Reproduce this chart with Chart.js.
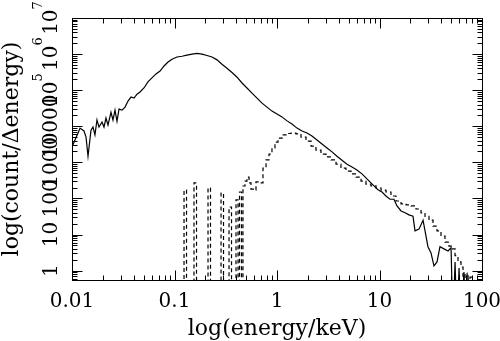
<!DOCTYPE html>
<html>
<head>
<meta charset="utf-8">
<script src="https://cdn.jsdelivr.net/npm/chart.js@4"></script>
<style>
  html, body { margin: 0; padding: 0; background: #ffffff; }
  #chart { display: block; }
</style>
</head>
<body>
<canvas id="chart" width="500" height="341"></canvas>
<script>
// Histograma total (línea continua): energía en keV y su valor
const solidEnergy = [
  0.0100, 0.01069, 0.01146, 0.01197, 0.01309, 0.01371, 0.01433, 0.01532, 0.01603, 0.01675,
  0.01753, 0.01834, 0.01963, 0.02051, 0.02145, 0.02244, 0.0240, 0.0251, 0.02627, 0.02748,
  0.02875, 0.03078, 0.03291, 0.0352, 0.03764, 0.04027, 0.04307, 0.04607, 0.05036, 0.05507,
  0.06026, 0.06601, 0.07228, 0.07907, 0.0865, 0.09462, 0.1057, 0.1183, 0.1324, 0.1483,
  0.166, 0.1854, 0.2075, 0.2323, 0.26, 0.2904, 0.3251, 0.3639, 0.4074, 0.456,
  0.5093, 0.5702, 0.6383, 0.7145, 0.798, 0.8933, 1.0, 1.119, 1.253, 1.4,
  1.567, 1.754, 1.963, 2.193, 2.455, 2.748, 3.076, 3.443, 3.846, 4.305,
  4.819, 5.395, 6.026, 6.745, 7.379, 8.07, 8.83, 9.66, 10.57, 11.56,
  12.65, 13.84, 14.82, 16.22, 17.74, 19.41, 21.23, 22.2, 24.3, 26.6,
  29.7, 31.8, 34.0, 36.4, 38.9, 42.6, 46.6, 49.9, 52.1, 54.6,
  57.0, 59.7, 62.4, 66.7, 69.8, 73.0, 76.4
];
const solidCounts = [
  2660, 4170, 6500, 8900, 7400, 5000, 1480, 7800, 9500, 5800,
  14900, 9500, 13100, 9500, 16900, 10800, 24300, 14900, 28000, 13700,
  29800, 28000, 34000, 50000, 64600, 60300, 77600, 89100, 115000, 170000,
  219000, 282000, 339000, 468000, 603000, 724000, 832000, 871000, 933000, 1000000,
  1040000, 1000000, 912000, 832000, 692000, 525000, 407000, 309000, 229000, 158000,
  115000, 83200, 60300, 43700, 33900, 26300, 21900, 18200, 14100, 11500,
  8900, 7400, 6500, 5400, 4170, 3240, 2510, 1950, 1480, 1150,
  890, 741, 617, 479, 372, 288, 224, 174, 151, 117,
  95, 95, 62, 45, 40, 35, 32, 12.6, 14.1, 25,
  4.6, 3.1, 1.35, 1.74, 4.6, 4.0, 3.5, 4.3, 0, 1.74,
  0, 1.18, 0, 0.92, 0, 0.76, 0
];

// Componente (línea discontinua): borde izquierdo de cada bin y su valor
const dashedEnergy = [
  0.1211, 0.1239, 0.1310, 0.1549, 0.1640, 0.2123, 0.2245, 0.2844, 0.3008, 0.3404,
  0.3600, 0.3981, 0.4168, 0.4309, 0.4505, 0.4656, 0.4875, 0.5093, 0.5333, 0.5572,
  0.5970, 0.6237, 0.6823, 0.7300, 0.7816, 0.8356, 0.8933, 0.9550, 1.023, 1.119,
  1.224, 1.371, 1.531, 1.714, 1.919, 2.148, 2.399, 2.685, 3.006, 3.365,
  3.767, 4.207, 4.710, 5.272, 5.902, 6.607, 7.379, 8.260, 9.247, 10.35,
  11.56, 12.94, 14.49, 16.22, 18.16, 20.28, 22.70, 25.41, 27.80, 30.41,
  33.27, 36.39, 39.81, 43.55, 47.64, 50.93, 54.58, 58.34, 62.37, 65.3,
  68.3, 71.5, 76.4, 79.9
];
const dashedCounts = [
  0, 170, 0, 269, 0, 195, 0, 141, 0, 58,
  0, 91, 0, 151, 0, 221, 302, 389, 269, 182,
  170, 288, 269, 692, 1170, 1700, 2510, 3630, 4680, 5750,
  6310, 6460, 6170, 5010, 3890, 2820, 2190, 1700, 1410, 1170,
  891, 692, 575, 479, 389, 302, 251, 224, 195, 170,
  151, 117, 85, 71, 66, 62, 51, 40, 32, 25,
  17, 12.6, 9.1, 6.2, 4.8, 4.0, 2.6, 1.74, 1.26, 0,
  0.86, 0, 0.66, 0
];

// Marcas de los ejes
const xTicks = [0.01, 0.1, 1, 10, 100];
const xTickLabels = ["0.01", "0.1", "1", "10", "100"];
const yTicks = [1, 10, 100, 1000, 10000, 1e5, 1e6, 1e7];
const yTickBase = ["1", "10", "100", "1000", "10000", "10", "10", "10"];
const yTickExp = ["", "", "", "", "", "5", "6", "7"];

const xTitle = "log(energy/keV)";
const yTitle = "log(count/\u0394energy)";

const serif = "'DejaVu Serif', serif";
const yMin = 0.55;

// Plugin: marco con marcas hacia dentro en los cuatro lados, etiquetas y títulos
const framePlugin = {
    id: "framePlugin",

    afterDatasetsDraw(chart) {
        const ctx = chart.ctx;
        const a = chart.chartArea;
        const xs = chart.scales.x;
        const ys = chart.scales.y;

        const L = Math.round(a.left) + 0.5;
        const R = Math.round(a.right) + 0.5;
        const T = Math.round(a.top) + 0.5;
        const B = Math.round(a.bottom) + 0.5;

        ctx.save();
        ctx.strokeStyle = "#000000";
        ctx.lineWidth = 1;
        ctx.strokeRect(L, T, R - L, B - T);

        ctx.beginPath();
        // marcas del eje x (abajo y arriba)
        for (let d = -2; d <= 2; d++) {
            for (let m = 1; m <= 9; m++) {
                const v = m * Math.pow(10, d);
                if (v < xs.min * 0.999 || v > xs.max * 1.001) continue;
                const px = Math.round(xs.getPixelForValue(v)) + 0.5;
                const len = m === 1 ? 10 : 5;
                ctx.moveTo(px, B); ctx.lineTo(px, B - len);
                ctx.moveTo(px, T); ctx.lineTo(px, T + len);
            }
        }
        // marcas del eje y (izquierda y derecha)
        for (let d = -1; d <= 7; d++) {
            for (let m = 1; m <= 9; m++) {
                const v = m * Math.pow(10, d);
                if (v < ys.min || v > ys.max * 1.001) continue;
                const py = Math.round(ys.getPixelForValue(v)) + 0.5;
                const len = m === 1 ? 10 : 5;
                ctx.moveTo(L, py); ctx.lineTo(L + len, py);
                ctx.moveTo(R, py); ctx.lineTo(R - len, py);
            }
        }
        ctx.stroke();

        ctx.fillStyle = "#000000";

        // etiquetas del eje x
        ctx.font = "20px " + serif;
        ctx.textAlign = "center";
        ctx.textBaseline = "alphabetic";
        xTicks.forEach((v, i) => {
            ctx.fillText(xTickLabels[i], xs.getPixelForValue(v), 307);
        });

        // etiquetas del eje y (giradas)
        yTicks.forEach((v, i) => {
            const py = ys.getPixelForValue(v);
            ctx.save();
            ctx.translate(57, py);
            ctx.rotate(-Math.PI / 2);
            ctx.textAlign = "left";
            ctx.font = "20px " + serif;
            const wb = ctx.measureText(yTickBase[i]).width;
            ctx.font = "13px " + serif;
            const we = yTickExp[i] ? ctx.measureText(yTickExp[i]).width : 0;
            const start = -(wb + we) / 2;
            ctx.font = "20px " + serif;
            ctx.fillText(yTickBase[i], start, 0);
            if (yTickExp[i]) {
                ctx.font = "13px " + serif;
                ctx.fillText(yTickExp[i], start + wb, -15);
            }
            ctx.restore();
        });

        // títulos
        ctx.font = "22px " + serif;
        ctx.textAlign = "center";
        ctx.fillText(xTitle, (a.left + a.right) / 2, 335);

        ctx.save();
        ctx.translate(18, (a.top + a.bottom) / 2);
        ctx.rotate(-Math.PI / 2);
        ctx.fillText(yTitle, 0, 0);
        ctx.restore();

        ctx.restore();
    }
};

// Los bins vacíos (0) se llevan por debajo del eje para que la línea baje hasta el borde
const toPoints = (xsArr, ysArr) => xsArr.map((e, i) => ({
    x: e,
    y: ysArr[i] > 0 ? ysArr[i] : yMin / 20
}));

new Chart(document.getElementById("chart"), {
    type: "line",

    data: {
        datasets: [{
            data: toPoints(solidEnergy, solidCounts),
            borderColor: "#000000",
            borderWidth: 1.2,
            pointRadius: 0,
            tension: 0,
            fill: false
        }, {
            data: toPoints(dashedEnergy, dashedCounts),
            stepped: "before",
            borderColor: "#000000",
            borderWidth: 1.2,
            borderDash: [4, 3],
            pointRadius: 0,
            fill: false
        }]
    },

    options: {
        responsive: false,
        animation: false,
        devicePixelRatio: 1,
        layout: {
            padding: { left: 72, right: 18, top: 18, bottom: 61 }
        },
        scales: {
            x: { type: "logarithmic", min: 0.01, max: 100, display: false },
            y: { type: "logarithmic", min: yMin, max: 1e7, display: false }
        },
        plugins: {
            legend: { display: false },
            tooltip: { enabled: false }
        }
    },

    plugins: [framePlugin]
});
</script>
</body>
</html>
